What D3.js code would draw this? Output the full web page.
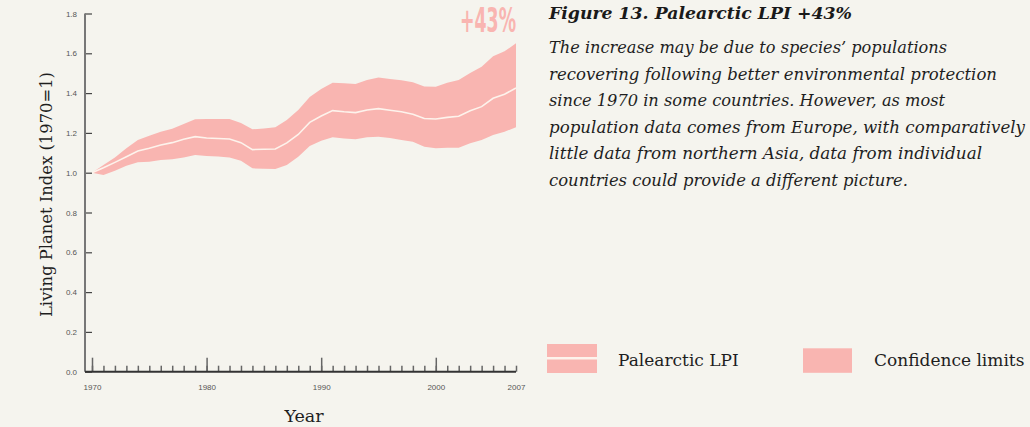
<!DOCTYPE html>
<html>
<head>
<meta charset="utf-8">
<script src="https://cdn.jsdelivr.net/npm/d3@7"></script>
<style>
  html, body { margin: 0; padding: 0; background: #f5f4ee; }
  svg { display: block; }
</style>
</head>
<body>
<svg id="chart" width="1030" height="427"></svg>
<script>
// ---- data ----
const years = d3.range(1970, 2008);
const lpi = [1.000, 1.025, 1.052, 1.080, 1.109, 1.123, 1.139, 1.151, 1.168, 1.181,
             1.174, 1.172, 1.169, 1.151, 1.116, 1.118, 1.119, 1.150, 1.192, 1.253,
             1.285, 1.312, 1.306, 1.302, 1.315, 1.322, 1.314, 1.306, 1.294, 1.272,
             1.270, 1.278, 1.284, 1.311, 1.332, 1.374, 1.394, 1.426];
const upper = [1.000, 1.039, 1.077, 1.123, 1.164, 1.186, 1.206, 1.221, 1.245, 1.268,
               1.270, 1.270, 1.270, 1.250, 1.218, 1.222, 1.228, 1.265, 1.315, 1.380,
               1.420, 1.452, 1.449, 1.446, 1.466, 1.478, 1.471, 1.465, 1.454, 1.433,
               1.432, 1.452, 1.466, 1.501, 1.533, 1.585, 1.610, 1.650];
const lower = [1.000, 0.988, 1.010, 1.035, 1.052, 1.055, 1.064, 1.067, 1.077, 1.089,
               1.084, 1.082, 1.077, 1.060, 1.022, 1.020, 1.019, 1.039, 1.080, 1.134,
               1.161, 1.178, 1.172, 1.168, 1.178, 1.181, 1.174, 1.164, 1.156, 1.130,
               1.123, 1.125, 1.126, 1.148, 1.164, 1.189, 1.206, 1.228];
const yTicks = [0.0, 0.2, 0.4, 0.6, 0.8, 1.0, 1.2, 1.4, 1.6, 1.8];
const xLabelTicks = [1970, 1980, 1990, 2000, 2007];
const xMajorTicks = [1970, 1980, 1990, 2000];
const changeLabel = "+43%";
const titleText = "Figure 13. Palearctic LPI +43%";
const bodyLines = [
  "The increase may be due to species\u2019 populations",
  "recovering following better environmental protection",
  "since 1970 in some countries. However, as most",
  "population data comes from Europe, with comparatively",
  "little data from northern Asia, data from individual",
  "countries could provide a different picture."
];
const legendLabels = ["Palearctic LPI", "Confidence limits"];

// ---- style ----
const PINK = "#f9b5b1";
const LINE = "#fdf3ec";
const SERIF = "'DejaVu Serif', 'Liberation Serif', serif";
const SANS = "'Liberation Sans', Arial, sans-serif";

const svg = d3.select("#chart");
svg.append("rect").attr("width", 1030).attr("height", 427).attr("fill", "#f5f4ee");

const x = d3.scaleLinear().domain([1970, 2007]).range([92, 516]);
const y = d3.scaleLinear().domain([0, 1.8]).range([371.7, 13.5]);
const axisX0 = 85;

const data = years.map((yr, i) => ({ yr, v: lpi[i], lo: lower[i], hi: upper[i] }));

// band
svg.append("path")
  .datum(data)
  .attr("fill", PINK)
  .attr("d", d3.area().x(d => x(d.yr)).y0(d => y(d.lo)).y1(d => y(d.hi)));

// line
svg.append("path")
  .datum(data)
  .attr("fill", "none")
  .attr("stroke", LINE)
  .attr("stroke-width", 1.6)
  .attr("d", d3.line().x(d => x(d.yr)).y(d => y(d.v)));

// y axis
const gy = svg.append("g").attr("transform", `translate(${axisX0},0)`)
  .call(d3.axisLeft(y).tickValues(yTicks).tickFormat(d3.format(".1f"))
        .tickSizeInner(-7).tickSizeOuter(0).tickPadding(8));
gy.select(".domain").remove();
gy.selectAll(".tick line").attr("stroke", "#444").attr("stroke-width", 1.2);
gy.selectAll(".tick text").attr("fill", "#555").style("font-family", SANS).style("font-size", "8px");
svg.append("line").attr("x1", axisX0).attr("x2", axisX0)
  .attr("y1", y(1.8)).attr("y2", y(0))
  .attr("stroke", "#777").attr("stroke-width", 2);

// x axis: minor ticks
const gxm = svg.append("g").attr("transform", `translate(0,${y(0)})`)
  .call(d3.axisBottom(x).tickValues(years).tickFormat("").tickSizeInner(-6).tickSizeOuter(0));
gxm.select(".domain").remove();
gxm.selectAll(".tick line").attr("stroke", "#666").attr("stroke-width", 1.5);
// major ticks
const gxM = svg.append("g").attr("transform", `translate(0,${y(0)})`)
  .call(d3.axisBottom(x).tickValues(xMajorTicks).tickFormat("").tickSizeInner(-14).tickSizeOuter(0));
gxM.select(".domain").remove();
gxM.selectAll(".tick line").attr("stroke", "#666").attr("stroke-width", 1.5);
// labels
const gxl = svg.append("g").attr("transform", `translate(0,${y(0)})`)
  .call(d3.axisBottom(x).tickValues(xLabelTicks).tickFormat(d3.format("d")).tickSizeInner(0).tickSizeOuter(0).tickPadding(13));
gxl.select(".domain").remove();
gxl.selectAll(".tick text").attr("fill", "#555").style("font-family", SANS).style("font-size", "8px");
svg.append("line").attr("x1", axisX0).attr("x2", x(2007))
  .attr("y1", y(0)).attr("y2", y(0))
  .attr("stroke", "#333").attr("stroke-width", 2);

// axis titles
svg.append("text")
  .attr("transform", "translate(52,194.5) rotate(-90)")
  .attr("text-anchor", "middle")
  .attr("textLength", 245).attr("lengthAdjust", "spacingAndGlyphs")
  .style("font-family", SERIF).style("font-size", "17.5px").attr("fill", "#1e1e1e")
  .text("Living Planet Index (1970=1)");
svg.append("text")
  .attr("x", 304).attr("y", 421.5)
  .attr("text-anchor", "middle")
  .style("font-family", SERIF).style("font-size", "17.5px").attr("fill", "#1e1e1e")
  .text("Year");

// +43%
svg.append("text")
  .attr("x", 460).attr("y", 32)
  .attr("textLength", 56).attr("lengthAdjust", "spacingAndGlyphs")
  .style("font-family", "'Liberation Sans Narrow', 'DejaVu Sans Condensed', 'Liberation Sans', sans-serif")
  .style("font-size", "34px").style("font-weight", "bold").attr("fill", PINK)
  .text(changeLabel);

// title + body
svg.append("text")
  .attr("x", 549).attr("y", 19)
  .attr("textLength", 303).attr("lengthAdjust", "spacingAndGlyphs")
  .style("font-family", SERIF).style("font-size", "17px")
  .style("font-weight", "bold").style("font-style", "italic").attr("fill", "#1a1a1a")
  .text(titleText);
const bodyBase = [52.5, 79.5, 106, 133, 159, 185.5];
const bodyWidths = [398, 448, 396, 476, 433, 359];
bodyLines.forEach((t, i) => {
  svg.append("text")
    .attr("x", 549).attr("y", bodyBase[i])
    .attr("textLength", bodyWidths[i]).attr("lengthAdjust", "spacingAndGlyphs")
    .style("font-family", SERIF).style("font-size", "16px")
    .style("font-style", "italic").attr("fill", "#1e1e1e")
    .text(t);
});

// legend
const lg = svg.append("g");
lg.append("rect").attr("x", 547).attr("y", 344).attr("width", 50).attr("height", 29).attr("fill", PINK);
lg.append("line").attr("x1", 547).attr("x2", 597).attr("y1", 358.3).attr("y2", 358.3)
  .attr("stroke", LINE).attr("stroke-width", 2.4);
lg.append("text").attr("x", 618).attr("y", 365.5)
  .style("font-family", SERIF).style("font-size", "17px").attr("fill", "#1e1e1e")
  .text(legendLabels[0]);
lg.append("rect").attr("x", 803).attr("y", 348.3).attr("width", 49).attr("height", 24.5).attr("fill", PINK);
lg.append("text").attr("x", 874).attr("y", 365.5)
  .style("font-family", SERIF).style("font-size", "17px").attr("fill", "#1e1e1e")
  .text(legendLabels[1]);
</script>
</body>
</html>
